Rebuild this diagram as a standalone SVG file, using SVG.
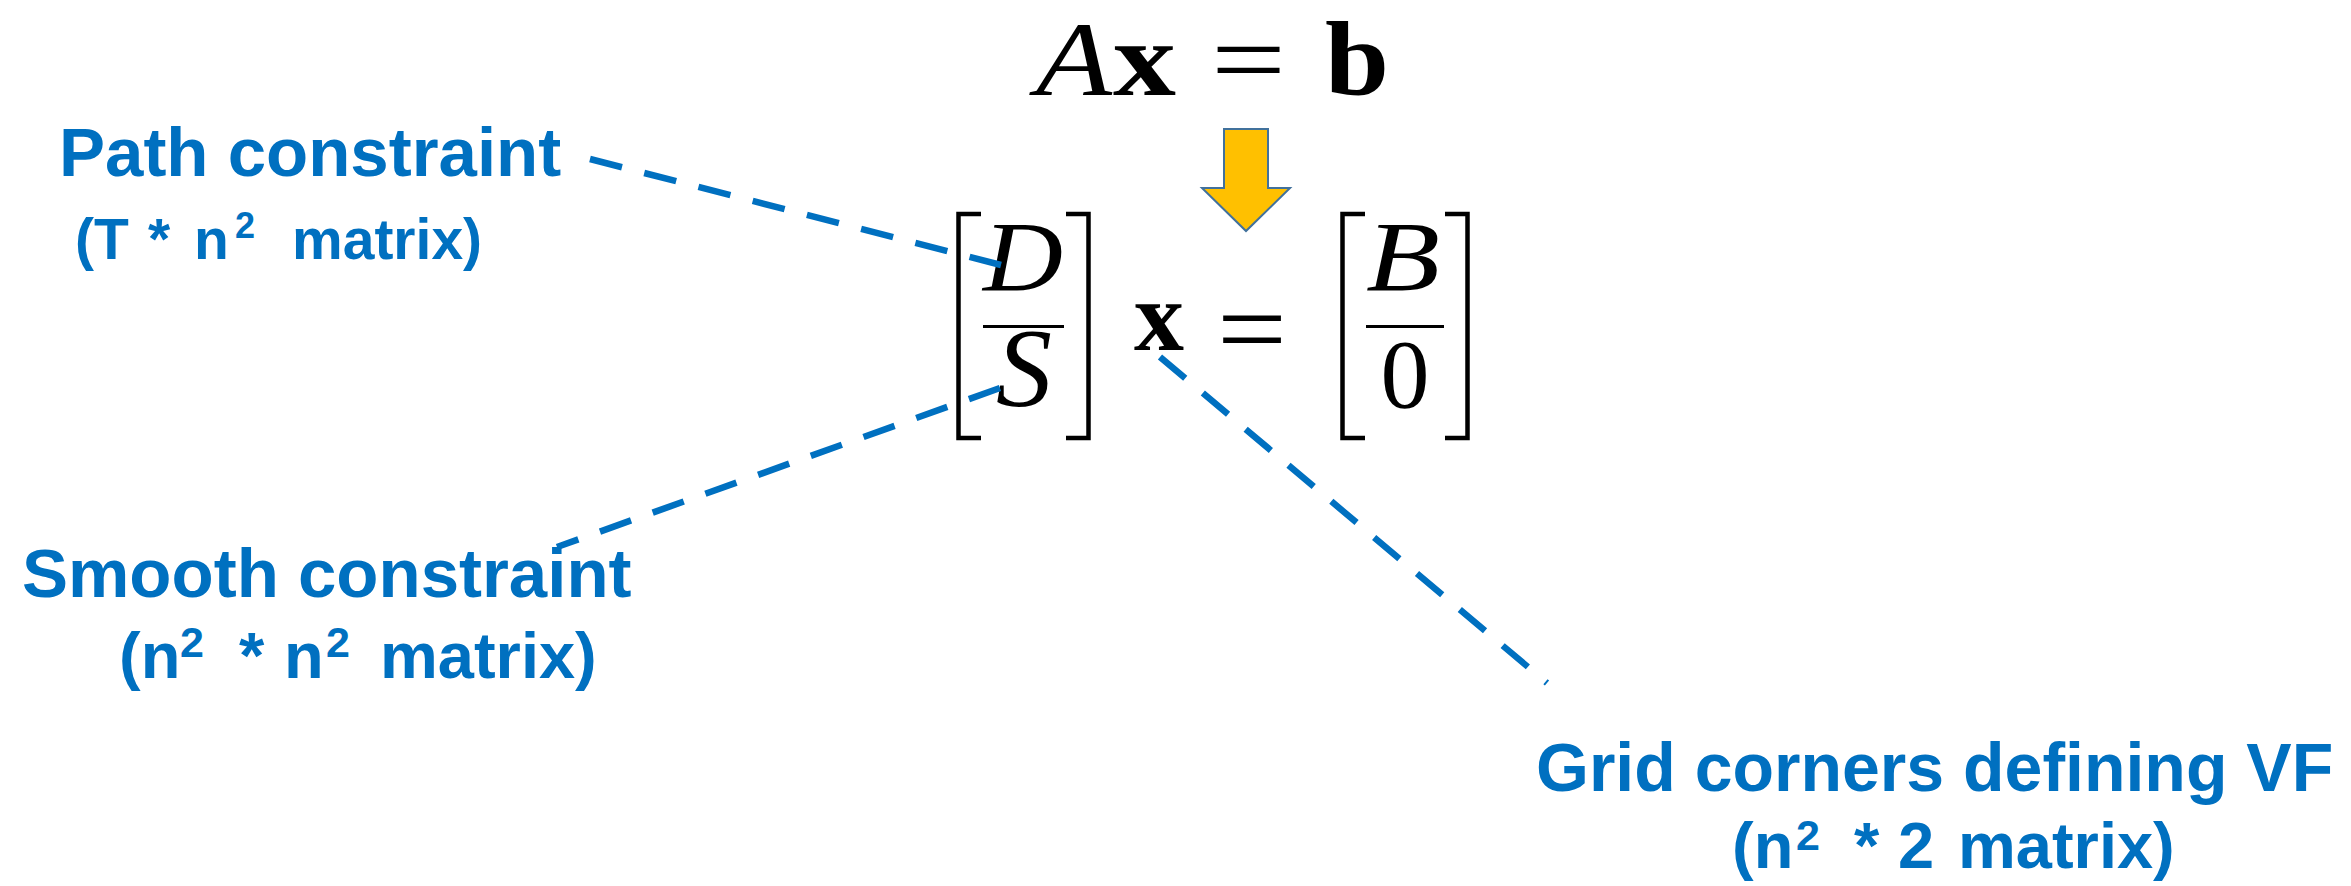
<svg xmlns="http://www.w3.org/2000/svg" width="2351" height="886" viewBox="0 0 2351 886">
  <style>
    .lbl { font-family: "Liberation Sans", Arial, sans-serif; font-weight: bold; fill: #0070C0; }
    .math { font-family: "Liberation Serif", "Times New Roman", serif; fill: #000; }
    .it { font-style: italic; }
    .bf { font-weight: bold; }
    .brk { fill: none; stroke: #000; stroke-width: 4.5; stroke-linejoin: miter; stroke-linecap: butt; }
    .bar { stroke: #000; stroke-width: 3; }
    .dash { fill: none; stroke: #0070C0; stroke-width: 6.5; stroke-dasharray: 33 23; }
  </style>
  <rect width="2351" height="886" fill="#fff"/>

  <g id="eq-top">
    <text class="math" y="95" font-size="106"><tspan class="it" x="1036" textLength="76" lengthAdjust="spacingAndGlyphs">A</tspan><tspan class="bf" x="1113" textLength="63" lengthAdjust="spacingAndGlyphs">x</tspan><tspan x="1211" textLength="75" lengthAdjust="spacingAndGlyphs">=</tspan><tspan class="bf" x="1325" textLength="64" lengthAdjust="spacingAndGlyphs">b</tspan></text>
  </g>

  <g id="arrow">
    <path d="M1224,129 H1268 V188 H1290 L1246,231 L1202,188 H1224 Z" fill="#FFC000" stroke="#41719C" stroke-width="2"/>
  </g>

  <g id="eq-matrix">
    <path class="brk" d="M981,214 H958.5 V438 H981"/>
    <path class="brk" d="M1066,214 H1088.5 V438 H1066"/>
    <text class="math it" x="983" y="290" font-size="100" textLength="80" lengthAdjust="spacingAndGlyphs">D</text>
    <line class="bar" x1="983" y1="326.5" x2="1064" y2="326.5"/>
    <text class="math it" x="1024" y="406" font-size="112" text-anchor="middle">S</text>
    <text class="math bf" x="1159" y="350" font-size="100" text-anchor="middle">x</text>
    <text class="math" x="1217" y="366" font-size="110" textLength="70" lengthAdjust="spacingAndGlyphs">=</text>
    <path class="brk" d="M1365,214 H1342.5 V438 H1365"/>
    <path class="brk" d="M1445,214 H1467.5 V438 H1445"/>
    <text class="math it" x="1366" y="290" font-size="100" textLength="74" lengthAdjust="spacingAndGlyphs">B</text>
    <line class="bar" x1="1366" y1="326.5" x2="1444" y2="326.5"/>
    <text class="math" x="1405" y="407" font-size="98" text-anchor="middle">0</text>
  </g>

  <g id="connectors">
    <path class="dash" d="M590,159 L1001,265"/>
    <path class="dash" d="M1000,388 L557,547"/>
    <path class="dash" d="M1160,357 L1547,683"/>
  </g>

  <g id="label-path">
    <text class="lbl" x="59" y="176" font-size="69">Path constraint</text>
    <text class="lbl" y="259" font-size="57"><tspan x="75">(T</tspan><tspan x="148">*</tspan><tspan x="194">n</tspan><tspan x="235" y="238" font-size="36">2</tspan><tspan x="292" y="259">matrix)</tspan></text>
  </g>

  <g id="label-smooth">
    <text class="lbl" x="22" y="597" font-size="69">Smooth constraint</text>
    <text class="lbl" y="678" font-size="65"><tspan x="119">(n</tspan><tspan x="180" y="657" font-size="43">2</tspan><tspan x="239" y="678">*</tspan><tspan x="284">n</tspan><tspan x="326" y="657" font-size="43">2</tspan><tspan x="380" y="678">matrix)</tspan></text>
  </g>

  <g id="label-grid">
    <text class="lbl" x="1536" y="791" font-size="68">Grid corners defining VF</text>
    <text class="lbl" y="868" font-size="65"><tspan x="1732">(n</tspan><tspan x="1796" y="850" font-size="43">2</tspan><tspan x="1854" y="868">*</tspan><tspan x="1898">2</tspan><tspan x="1958">matrix)</tspan></text>
  </g>
</svg>
